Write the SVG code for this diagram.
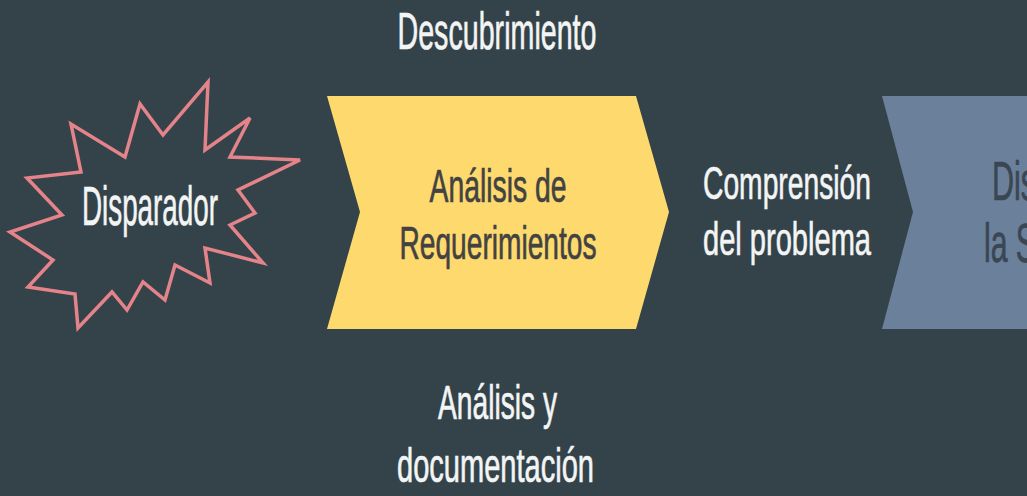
<svg xmlns="http://www.w3.org/2000/svg" width="1027" height="496" viewBox="0 0 1027 496">
<style>
.t{font-family:"Liberation Sans",Arial,sans-serif;text-anchor:middle}
.w{fill:#f3f5f5;stroke:#f3f5f5;stroke-width:0.7}
.dk{fill:#424242;stroke:#424242;stroke-width:0.7}
.bk{fill:#3a4651;stroke:#3a4651;stroke-width:0.7;font-family:"Liberation Sans",Arial,sans-serif}
</style>
<rect width="1027" height="496" fill="#34434a"/>
<g id="disparador">
<polygon points="208,82 205,150 250,118 230,157 300,160 238,190 255,213 230,225 263,263 205,248 210,283 175,265 165,300 143,282 127,310 112,292 78,328 75,294 28,287 53,260 10,232 62,215 27,178 81,172 71,124 125,157 140,104 163,135" fill="none" stroke="#e5838a" stroke-width="3.5" stroke-linejoin="miter"/>
<text class="t w" x="150" y="225" font-size="55" textLength="136" lengthAdjust="spacingAndGlyphs">Disparador</text>
</g>
<g id="analisis">
<polygon points="327,96 636,96 669,212 636,329 327,329 360,212" fill="#fdd96e"/>
<text class="t dk" x="498" y="202" font-size="46" textLength="137" lengthAdjust="spacingAndGlyphs">Análisis de</text>
<text class="t dk" x="498" y="259" font-size="46" textLength="197" lengthAdjust="spacingAndGlyphs">Requerimientos</text>
</g>
<g id="diseno">
<polygon points="882,96 1040,96 1040,329 882,329 913,212" fill="#6a809b"/>
<text class="bk" x="992" y="200" font-size="55" textLength="44" lengthAdjust="spacingAndGlyphs">Dis</text>
<text class="bk" x="984" y="262" font-size="55" textLength="52" lengthAdjust="spacingAndGlyphs">la S</text>
</g>
<g id="labels">
<text class="t w" x="497" y="49" font-size="52" textLength="199" lengthAdjust="spacingAndGlyphs">Descubrimiento</text>
<text class="t w" x="787" y="199" font-size="47" textLength="168" lengthAdjust="spacingAndGlyphs">Comprensión</text>
<text class="t w" x="787" y="255" font-size="47" textLength="168" lengthAdjust="spacingAndGlyphs">del problema</text>
<text class="t w" x="497.5" y="419" font-size="48" textLength="119" lengthAdjust="spacingAndGlyphs">Análisis y</text>
<text class="t w" x="495.5" y="482" font-size="48" textLength="197" lengthAdjust="spacingAndGlyphs">documentación</text>
</g>
<g id="connectors"></g>
</svg>
